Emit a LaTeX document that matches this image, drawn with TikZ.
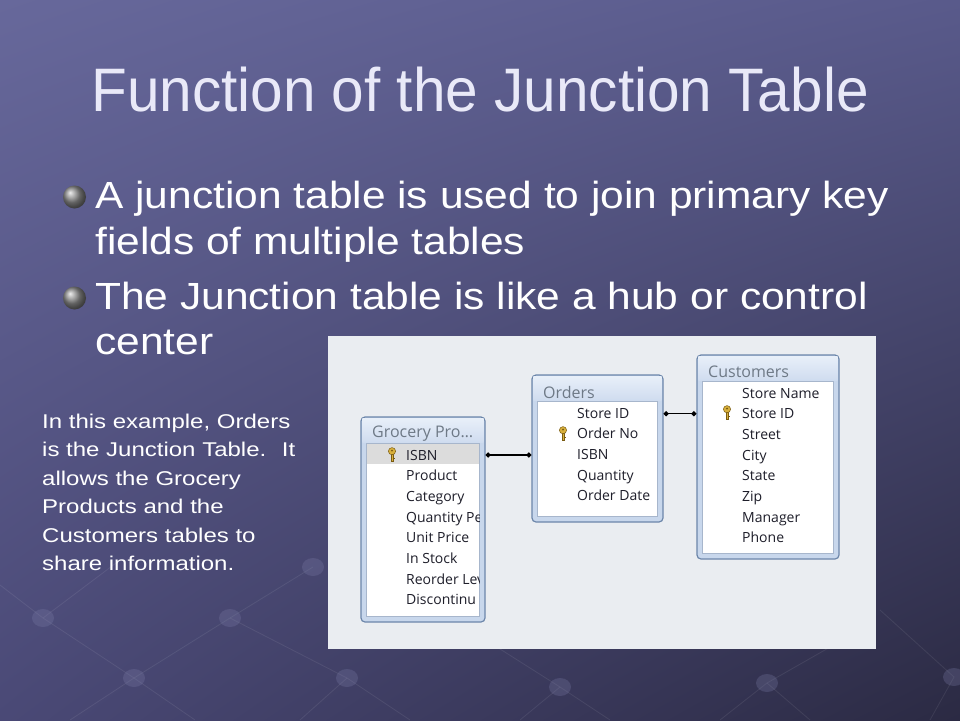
\documentclass[tikz,border=0pt]{standalone}
\usepackage{fontspec}
\setmainfont{Liberation Sans}
\newfontfamily\accessfont{Open Sans}
\usetikzlibrary{arrows.meta,shadings}

\definecolor{slidetl}{HTML}{67689B}
\definecolor{slidetr}{HTML}{595A8B}
\definecolor{slidebl}{HTML}{4A4976}
\definecolor{slidebr}{HTML}{2B2A43}
\definecolor{titleink}{HTML}{E9E9F8}
\definecolor{panelgray}{HTML}{EAEDF1}
\definecolor{tbledge}{HTML}{6C86AA}
\definecolor{tblband}{HTML}{C8D7EC}
\definecolor{headtop}{HTML}{E8EFF9}
\definecolor{headbot}{HTML}{CFDCEF}
\definecolor{headink}{HTML}{6E7986}
\definecolor{fieldink}{HTML}{1E1E2A}
\definecolor{rowhl}{HTML}{DCDCDC}
\definecolor{keygold}{HTML}{D8B03C}
\definecolor{keydark}{HTML}{7A5C12}

\tikzset{
  titletext/.style={text=titleink, inner sep=0pt, yscale=1.05,
    font=\fontsize{58.5}{64}\selectfont},
  slidetext/.style={text=white, inner sep=0pt, yscale=0.89,
    font=\fontsize{42.5}{50}\selectfont},
  notetext/.style={text=white, inner sep=0pt, yscale=0.83,
    font=\fontsize{24}{28}\selectfont},
  tblbox/.style={draw=tbledge, fill=tblband, line width=1.2pt,
    rounded corners=4pt, inner sep=0pt},
  fieldbox/.style={fill=white, draw=tbledge!60, line width=0.6pt},
  headtext/.style={anchor=west, inner sep=0pt, text=headink,
    font=\accessfont\fontsize{16}{18}\selectfont},
  field/.style={anchor=base west, inner sep=0pt, text=fieldink,
    font=\accessfont\fontsize{14}{16}\selectfont},
  relline/.style={line width=1.4pt, {Circle[length=5pt]}-{Circle[length=5pt]}},
  bulletball/.style={ball color=black!45},
  accesskey/.pic={
    \filldraw[fill=keygold, draw=keydark, line width=0.5pt] (-1.1,-1) rectangle (1.1,6.5);
    \fill[keydark] (1.1,3.2) rectangle (2.8,4.2);
    \fill[keydark] (1.1,5.4) rectangle (2.4,6.5);
    \filldraw[fill=keygold, draw=keydark, line width=0.5pt] (0,-3.8) circle (3.6);
    \fill[keydark] (0,-4.4) circle (1.1);
  }
}

\begin{document}
\begin{tikzpicture}[x=1pt,y=-1pt]
\useasboundingbox (0,0) rectangle (960,720);
\shade[upper left=slidetl, upper right=slidetr, lower left=slidebl, lower right=slidebr]
  (0,0) rectangle (960,720);

% faint lattice of the slide background
\begin{scope}[white, opacity=0.08, line width=0.8pt]
\draw (0,585) -- (43,618) -- (134,678) -- (195,720);
\draw (120,560) -- (43,618);
\draw (313,567) -- (230,618) -- (134,678) -- (70,720);
\draw (230,618) -- (347,678) -- (410,720);
\draw (347,678) -- (300,720);
\draw (470,630) -- (560,687) -- (610,720);
\draw (560,687) -- (520,720);
\draw (860,630) -- (767,683) -- (720,720);
\draw (767,683) -- (810,720);
\draw (880,610) -- (954,677) -- (930,720);
\end{scope}
\foreach \p in {(43,618),(230,618),(134,678),(347,678),(560,687),(767,683),(954,677),(313,567)}
  \fill[slidetl!85!white, opacity=0.28] \p ellipse (11 and 9);

% title and bullets
\node[titletext, anchor=base] (title) at (480,111) {Function of the Junction Table};

\shade[bulletball] (74.5,197) circle (11.5);
\shade[bulletball] (74.5,298) circle (11.5);
\node[slidetext, anchor=base west] (b1a) at (95,208) {A junction table is used to join primary key};
\node[slidetext, anchor=base west] (b1b) at (95,254) {fields of multiple tables};
\node[slidetext, anchor=base west] (b2a) at (95,309) {The Junction table is like a hub or control};
\node[slidetext, anchor=base west] (b2b) at (95,354) {center};

% side note
\foreach \ln [count=\i] in {{In this example, Orders},{is the Junction Table.~ It},
  {allows the Grocery},{Products and the},{Customers tables to},{share information.}}
  \node[notetext, anchor=base west] (note\i) at (42,{428+28.5*(\i-1)}) {\ln};

% screenshot of the relationships window
\fill[panelgray] (328,336) rectangle (876,649);

\node[tblbox, minimum width=124pt, minimum height=205pt] (grocery) at (423,519.5) {};
\node[tblbox, minimum width=131pt, minimum height=147pt] (orders) at (597.5,448.5) {};
\node[tblbox, minimum width=142pt, minimum height=204pt] (customers) at (768,457) {};

\foreach \t in {grocery,orders,customers} {
  \shade[top color=headtop, bottom color=headbot]
    ([shift={(2,2)}]\t.north west) rectangle ([shift={(-2,26)}]\t.north east);
  \draw[fieldbox] ([shift={(6,27)}]\t.north west) rectangle ([shift={(-6,-6)}]\t.south east);
}
\fill[rowhl] ([shift={(6.5,28)}]grocery.north west) rectangle ([shift={(-6.5,48)}]grocery.north east);

\node[headtext] (ghead) at (372,434) {Grocery Pro…};
\node[headtext] (ohead) at (543,392) {Orders};
\node[headtext] (chead) at (708,372) {Customers};

\begin{scope}
\clip ([shift={(6,27)}]grocery.north west) rectangle ([shift={(-6,-6)}]grocery.south east);
\foreach \f [count=\i] in {ISBN,Product,Category,Quantity Pe,Unit Price,In Stock,Reorder Lev,Discontinu}
  \node[field] (gp\i) at (406,{460+20.7*(\i-1)}) {\f};
\end{scope}
\foreach \f [count=\i] in {Store ID,Order No,ISBN,Quantity,Order Date}
  \node[field] (ord\i) at (577,{418+20.7*(\i-1)}) {\f};
\foreach \f [count=\i] in {Store Name,Store ID,Street,City,State,Zip,Manager,Phone}
  \node[field] (cust\i) at (742,{398+20.7*(\i-1)}) {\f};

\pic at (392,455) {accesskey};
\pic at (563,434) {accesskey};
\pic at (727,413) {accesskey};

% relationships
\draw[relline] (grocery.east |- gp1) -- (orders.west |- gp1);
\draw[relline] (orders.east |- cust2) -- (customers.west |- cust2);
\end{tikzpicture}
\end{document}
